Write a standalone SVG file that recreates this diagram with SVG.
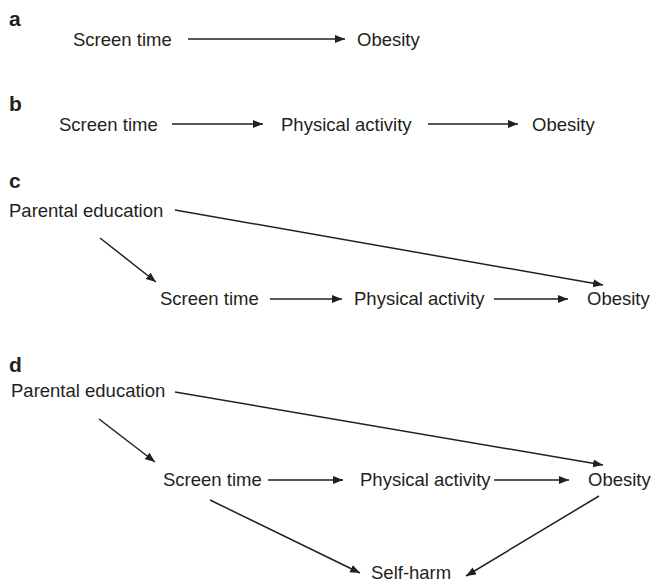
<svg xmlns="http://www.w3.org/2000/svg" width="651" height="584" viewBox="0 0 651 584">
<style>
text{font-family:"Liberation Sans",Arial,Helvetica,sans-serif;fill:#231f20}
.n{font-size:18.5px}
.p{font-size:21px;font-weight:bold}
.e{stroke:#231f20;stroke-width:1.5;fill:none;marker-end:url(#ah)}
</style>
<defs>
<marker id="ah" markerUnits="userSpaceOnUse" markerWidth="11" markerHeight="9" refX="10" refY="4" orient="auto">
<path d="M0,0 L10,4 L0,8 z" fill="#231f20"/>
</marker>
</defs>
<rect width="651" height="584" fill="#fff"/>
<g id="labels">
<text class="p" x="9" y="26">a</text>
<text class="p" x="9" y="111">b</text>
<text class="p" x="9" y="188">c</text>
<text class="p" x="9" y="372">d</text>
</g>
<g id="panel-a">
<g id="a-screen"><text class="n" x="73" y="46">Screen time</text></g>
<g id="a-obesity"><text class="n" x="357" y="46">Obesity</text></g>
</g>
<g id="panel-b">
<g id="b-screen"><text class="n" x="59" y="131">Screen time</text></g>
<g id="b-pa"><text class="n" x="281" y="131">Physical activity</text></g>
<g id="b-obesity"><text class="n" x="532" y="131">Obesity</text></g>
</g>
<g id="panel-c">
<g id="c-parent"><text class="n" x="9" y="217">Parental education</text></g>
<g id="c-screen"><text class="n" x="160" y="305">Screen time</text></g>
<g id="c-pa"><text class="n" x="354" y="305">Physical activity</text></g>
<g id="c-obesity"><text class="n" x="587" y="305">Obesity</text></g>
</g>
<g id="panel-d">
<g id="d-parent"><text class="n" x="11" y="397">Parental education</text></g>
<g id="d-screen"><text class="n" x="163" y="486">Screen time</text></g>
<g id="d-pa"><text class="n" x="360" y="486">Physical activity</text></g>
<g id="d-obesity"><text class="n" x="588" y="486">Obesity</text></g>
<g id="d-selfharm"><text class="n" x="371" y="579">Self-harm</text></g>
</g>
<g id="connectors">
<line class="e" x1="188" y1="39" x2="345" y2="39"/>
<line class="e" x1="172" y1="124" x2="263" y2="124"/>
<line class="e" x1="428" y1="124" x2="518" y2="124"/>
<line class="e" x1="175" y1="210" x2="603" y2="285"/>
<line class="e" x1="100" y1="238" x2="156" y2="282"/>
<line class="e" x1="270" y1="299" x2="342" y2="299"/>
<line class="e" x1="494" y1="299" x2="568" y2="299"/>
<line class="e" x1="175" y1="392" x2="603" y2="465"/>
<line class="e" x1="99" y1="419" x2="155" y2="462"/>
<line class="e" x1="268" y1="480" x2="343" y2="480"/>
<line class="e" x1="494" y1="480" x2="569" y2="480"/>
<line class="e" x1="210" y1="500" x2="360" y2="573"/>
<line class="e" x1="599" y1="496" x2="466" y2="576"/>
</g>
</svg>
